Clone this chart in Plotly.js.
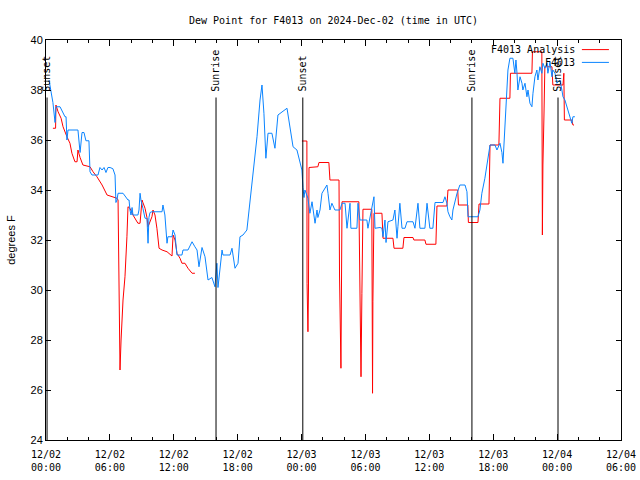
<!DOCTYPE html>
<html>
<head>
<meta charset="utf-8">
<script src="https://cdn.plot.ly/plotly-3.0.1.min.js"></script>
<style>html,body{margin:0;padding:0;background:#fff;}#chart{width:640px;height:480px;}</style>
</head>
<body>
<div id="chart"></div>
<script>
// Minutes since 2024-12-02 00:00 UTC
var obsMin = [17,23,34,39,51,56,79,107,113,118,124,163,180,192,203,214,225,242,248,259,293,304,316,327,338,349,361,377,389,394,400,406,434,462,468,473,479,485,490,518,524,530,535,546,558,569,575,580,586,597,614,654,659,670,682,687,710,716,727,738,766,772,800,823,839,851,862,879,896,913,935,952,963,969,992,997,1037,1048,1065,1082,1093,1110,1132,1149,1166,1189,1206,1217,1228,1239,1251,1273,1290,1307,1358,1375,1392,1414,1431,1442,1448,1454,1459,1476,1487,1499,1516,1527,1532,1544,1555,1583,1589,1600,1611,1628,1656,1668,1685,1696,1713,1718,1752,1758,1769,1808,1814,1831,1848,1854,1882,1893,1899,1910,1916,1927,1955,1966,1978,1983,1994,2006,2023,2034,2068,2079,2090,2096,2107,2135,2147,2163,2180,2192,2237,2248,2259,2265,2276,2287,2293,2316,2332,2361,2372,2378,2406,2434,2445,2456,2473,2490,2502,2530,2541,2558,2569,2575,2586,2597,2603,2614,2631,2642,2648,2654,2659,2671,2682,2687,2699,2710,2716,2727,2738,2744,2755,2766,2772,2783,2794,2800,2811,2823,2828,2840,2851,2856,2868,2879,2896,2907,2913,2924,2935,2941,2952,2963,2969,2980];
var obsDew = [38.4,38.13,37.7,37.5,36.7,37.33,37.33,36.93,36.93,36.0,36.4,36.4,36.4,35.5,36.3,36.3,35.97,35.97,34.73,34.6,34.6,34.9,34.8,34.9,34.7,34.9,34.9,34.85,34.6,33.5,33.6,33.87,33.87,33.6,33.6,33.2,33.0,33.3,33.0,33.0,33.2,33.87,33.6,33.27,32.87,32.87,31.87,32.9,33.1,33.13,33.13,33.13,33.4,33.0,31.87,32.13,32.13,32.4,32.2,31.4,31.4,31.6,31.6,31.93,31.73,31.6,30.93,31.7,31.33,30.4,30.5,30.13,31.07,30.1,31.6,31.4,31.4,31.67,30.87,31.07,32.13,32.2,32.4,33.47,34.8,36.13,37.6,38.2,37.07,35.27,36.27,36.27,35.67,37.0,37.27,36.4,35.73,35.6,35.07,34.8,34.1,33.7,34.0,33.67,33.07,33.53,32.67,33.2,32.9,33.2,33.87,34.2,33.87,33.2,33.47,33.2,33.2,33.47,33.47,32.47,33.47,32.47,32.47,33.47,32.8,32.8,32.47,33.13,33.73,32.47,32.5,32.47,32.13,32.8,31.9,32.73,32.8,33.2,32.07,32.53,33.47,32.47,32.47,32.73,32.73,32.47,33.33,33.47,32.47,32.47,33.47,32.47,32.47,33.5,33.5,33.73,33.47,33.13,32.93,32.8,33.2,33.87,34.2,34.2,33.93,32.93,32.93,32.93,33.2,33.87,34.47,35.2,35.8,35.8,35.6,35.87,35.5,35.07,36.67,37.73,38.8,39.27,39.27,38.67,39.2,38.67,38.0,38.53,38.27,38.0,38.27,37.73,38.0,37.47,37.33,37.87,38.53,38.8,38.4,38.93,38.67,39.07,38.87,39.07,38.67,39.13,38.53,38.8,38.67,38.27,38.4,38.0,37.73,37.6,37.33,37.13,36.93,36.67,36.93,36.93];

var anaMin = [39,54,56,68,85,96,118,135,146,163,175,180,192,208,248,265,287,316,344,372,400,406,408,411,417,423,434,445,451,456,462,473,490,518,530,541,546,558,569,575,597,603,614,625,637,654,682,710,716,727,738,755,766,783,800,823,839,840,1442,1470,1471,1476,1479,1482,1532,1538,1594,1600,1651,1654,1662,1665,1668,1763,1766,1772,1775,1780,1786,1836,1837,1840,1842,1848,1893,1896,1899,1955,1961,2011,2017,2068,2073,2135,2141,2197,2203,2259,2265,2320,2324,2377,2380,2434,2440,2496,2502,2552,2558,2614,2617,2738,2741,2794,2797,2800,2806,2811,2851,2856,2913,2918,2921,2963,2969,2975];
var anaDew = [36.47,36.47,37.4,37.13,36.87,36.53,36.13,35.87,35.47,35.13,35.13,35.6,35.3,35.0,34.93,34.73,34.53,34.2,33.8,33.75,33.67,33.6,31.93,28.53,26.8,28.0,29.6,30.53,31.3,32.13,33.33,33.27,33.0,32.67,32.67,33.6,33.5,33.27,32.9,32.53,32.93,33.2,33.0,32.47,31.67,31.6,31.53,31.36,32.2,32.0,31.47,31.27,31.07,31.07,30.87,30.67,30.67,null,35.96,35.96,30.27,28.33,30.0,34.9,34.93,35.1,35.1,34.4,34.4,30.6,26.87,30.27,33.53,33.53,32.13,28.27,26.53,29.87,33.23,33.23,29.6,25.87,29.53,33.07,33.07,32.53,32.07,32.07,31.67,31.67,32.1,32.1,32.0,32.0,31.83,31.83,33.36,33.36,34.0,34.0,33.4,33.4,32.7,32.7,33.44,33.44,35.8,35.8,37.67,37.67,38.67,38.67,39.53,39.53,32.2,35.0,37.0,38.93,38.93,38.2,38.2,38.67,36.8,36.8,36.6,36.6];

var sunMin = [6, 958, 1447, 2400, 2885];
var sunLabel = ["Sunset", "Sunrise", "Sunset", "Sunrise", "Sunset"];

var seriesNames = ["F4013 Analysis", "F4013"];
var seriesColors = ["#ff0000", "#0a84ff"];

var BASE = Date.UTC(2024, 11, 2, 0, 0, 0);
function toDate(m) {
  var d = new Date(BASE + m * 60000);
  return d.toISOString().slice(0, 19).replace('T', ' ');
}

var mono = "DejaVu Sans Mono, monospace";
var sans = "Liberation Sans, Arial, sans-serif";

var traces = [
  {x: anaMin.map(toDate), y: anaDew, type: 'scatter', mode: 'lines', name: seriesNames[0],
   line: {color: seriesColors[0], width: 1}, connectgaps: false, showlegend: false},
  {x: obsMin.map(toDate), y: obsDew, type: 'scatter', mode: 'lines', name: seriesNames[1],
   line: {color: seriesColors[1], width: 1}, showlegend: false}
];

var shapes = [];
var annotations = [];
for (var i = 0; i < sunMin.length; i++) {
  shapes.push({type: 'line', xref: 'x', yref: 'y', x0: toDate(sunMin[i]), x1: toDate(sunMin[i]),
               y0: 24, y1: 37.7, line: {color: '#000', width: 1}});
  annotations.push({xref: 'x', yref: 'paper', x: toDate(sunMin[i]), y: 0.868, text: sunLabel[i],
                    textangle: -90, showarrow: false, xanchor: 'center', yanchor: 'bottom',
                    font: {family: mono, size: 10, color: '#000'}, borderpad: 0});
}
// legend (gnuplot style: text then line sample)
var legY = [0.976, 0.944];
for (var j = 0; j < seriesNames.length; j++) {
  annotations.push({xref: 'paper', yref: 'paper', x: 0.922, y: legY[j], text: seriesNames[j],
                    showarrow: false, xanchor: 'right', yanchor: 'middle', borderpad: 0,
                    font: {family: mono, size: 10, color: '#000'}});
  shapes.push({type: 'line', xref: 'paper', yref: 'paper', x0: 0.932, x1: 0.979,
               y0: legY[j], y1: legY[j], line: {color: seriesColors[j], width: 1}});
}

var layout = {
  width: 640, height: 480,
  margin: {l: 46, r: 19, t: 40, b: 40, pad: 0},
  paper_bgcolor: '#fff', plot_bgcolor: '#fff',
  showlegend: false,
  title: {text: 'Dew Point for F4013 on 2024-Dec-02 (time in UTC)',
          font: {family: mono, size: 10, color: '#000'},
          x: 0.5, xref: 'paper', xanchor: 'center', y: 0.958, yref: 'container', yanchor: 'middle'},
  xaxis: {type: 'date', range: [toDate(0), toDate(54 * 60)], autorange: false,
          tick0: toDate(0), dtick: 6 * 3600000, tickformat: '%m/%d<br>%H:%M',
          ticks: 'inside', ticklen: 6, tickcolor: '#000', tickwidth: 1,
          ticklabelstandoff: 5,
          minor: {dtick: 2 * 3600000, ticks: 'inside', ticklen: 3, tickcolor: '#000', showgrid: false},
          showline: true, linecolor: '#000', linewidth: 1, mirror: 'ticks',
          showgrid: false, zeroline: false,
          tickfont: {family: mono, size: 10, color: '#000'}},
  yaxis: {range: [24, 40], autorange: false, dtick: 2, tick0: 24,
          ticks: 'inside', ticklen: 5, tickcolor: '#000',
          showline: true, linecolor: '#000', linewidth: 1, mirror: 'ticks',
          showgrid: false, zeroline: false,
          tickfont: {family: sans, size: 11, color: '#000'},
          title: {text: 'degrees F', font: {family: sans, size: 11, color: '#000'}, standoff: 12}},
  shapes: shapes,
  annotations: annotations
};

Plotly.newPlot('chart', traces, layout, {staticPlot: true, displayModeBar: false});
</script>
</body>
</html>
